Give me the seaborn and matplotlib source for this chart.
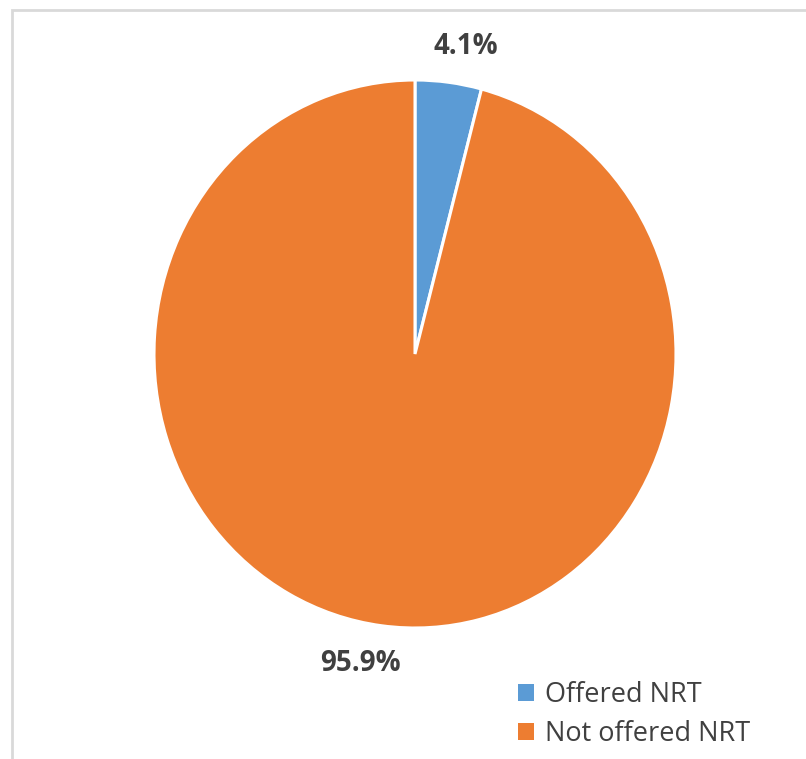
import numpy as np
import matplotlib
matplotlib.use("Agg")
import matplotlib.pyplot as plt
from matplotlib.patches import Rectangle
import seaborn as sns

categories = ["Offered NRT", "Not offered NRT"]
shares = [4.1, 95.9]
slice_colors = ["#5B9BD5", "#ED7D31"]

sns.set_theme(style="white")
plt.rcParams["font.family"] = ["Open Sans", "DejaVu Sans"]

W, H = 806, 759
fig = plt.figure(figsize=(W / 100, H / 100), dpi=100)
fig.patch.set_facecolor("white")

# light frame around the chart area (runs off the right and bottom edges)
fig.patches.append(Rectangle((12 / W, -0.05), 1.2, 1 - 10 / H + 0.05,
                             transform=fig.transFigure, fill=False,
                             edgecolor="#d9d9d9", linewidth=2.0, zorder=0))

# pie axes spans the (slightly tall) ellipse of the pie
left, right, top, bottom = 154, 676, 80, 628
ax = fig.add_axes([left / W, 1 - bottom / H, (right - left) / W, (bottom - top) / H])

wedges, _ = ax.pie(shares, colors=slice_colors, startangle=90, counterclock=False,
                   wedgeprops=dict(edgecolor="white", linewidth=2.2))
ax.set_aspect("auto")
ax.set_xlim(-1, 1)
ax.set_ylim(-1, 1)
ax.axis("off")

# percentage labels outside each wedge
label_radius = [1.14, 1.15]
label_shift = [-2.5, -3.0]
for w, val, r, sh in zip(wedges, shares, label_radius, label_shift):
    ang = np.deg2rad((w.theta1 + w.theta2) / 2 + sh)
    ax.text(r * np.cos(ang), r * np.sin(ang), f"{val:.1f}%",
            ha="center", va="center", fontsize=20, fontweight="bold",
            color="#404040", clip_on=False)

leg = fig.legend(wedges, categories, loc="upper left",
                 bbox_to_anchor=(507 / W, 1 - 670 / H), frameon=False,
                 fontsize=19.5, handlelength=0.6, handleheight=0.6,
                 handletextpad=0.4, labelspacing=0.42, borderaxespad=0)
for t in leg.get_texts():
    t.set_color("#404040")
for h in leg.legend_handles:
    h.set_edgecolor("none")

fig.savefig("out.png", dpi=100)
